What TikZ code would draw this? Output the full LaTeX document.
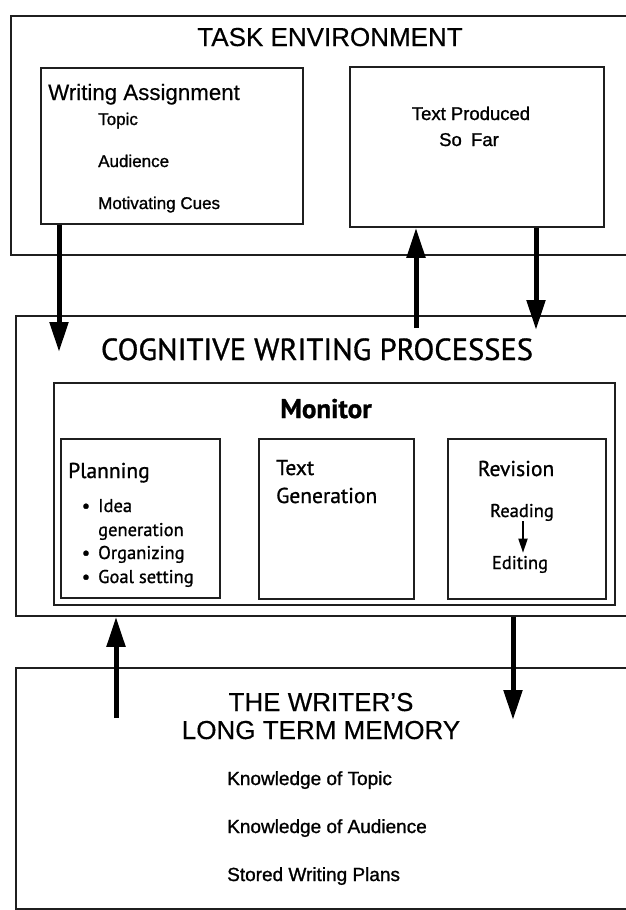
\documentclass[tikz,border=0pt]{standalone}
\usepackage{fontspec}
\setmainfont{Liberation Sans}[FakeBold=0.4]
\newfontfamily\heavysans{Liberation Sans}[FakeBold=1.1]
\newfontfamily\humanist{PT Sans}[FakeBold=1.0]
\usetikzlibrary{arrows.meta}
\begin{document}
\begin{tikzpicture}[x=1pt,y=-1pt,
  frame/.style={draw=black!88, line width=1.8pt, rectangle, inner sep=0pt, anchor=north west},
  lbl/.style={inner sep=0pt, text=black},
  head/.style={lbl, anchor=base, font=\fontsize{26}{28}\selectfont},
  item/.style={lbl, anchor=base west, font=\heavysans\fontsize{17}{19}\selectfont},
  hsub/.style={lbl, font=\humanist\fontsize{21.5}{24}\selectfont},
  hitem/.style={lbl, font=\humanist\fontsize{18.5}{21}\selectfont},
  bigarrow/.style={draw=black, line width=5pt, -{Triangle[width=18pt,length=30pt]}},
  smallarrow/.style={draw=black, line width=1.8pt, -{Triangle[width=9pt,length=14pt]}}
]
\useasboundingbox (0,0) rectangle (625,910);
\fill[white] (0,0) rectangle (625,910);

% ---------------- task environment ----------------
\node[frame, minimum width=640pt, minimum height=239pt] (task) at (10,15) {};
\node[head] (taskT) at (330,46) {TASK ENVIRONMENT};

\node[frame, minimum width=262pt, minimum height=156pt] (assign) at (40,67) {};
\node[lbl, anchor=base west, font=\fontsize{22.3}{24}\selectfont] (assignT) at (48,100) {Writing Assignment};
\node[item] (topic) at (98,125) {Topic};
\node[item] (audience) at (98,167) {Audience};
\node[item] (cues) at (98,209) {Motivating Cues};

\node[frame, minimum width=254pt, minimum height=160pt] (produced) at (349,66) {};
\node[lbl, anchor=base, font=\heavysans\fontsize{18.5}{21}\selectfont] (prodA) at (471,120) {Text Produced};
\node[lbl, anchor=base, font=\heavysans\fontsize{18.5}{21}\selectfont] (prodB) at (469,146) {So\enspace Far};

% ---------------- cognitive writing processes ----------------
\node[frame, minimum width=635pt, minimum height=300pt] (cog) at (15,315) {};
\node[lbl, anchor=base, font=\humanist\fontsize{30.5}{32}\selectfont] (cogT) at (317,360) {COGNITIVE WRITING PROCESSES};

\node[frame, minimum width=561pt, minimum height=222pt] (monitor) at (53,382) {};
\node[lbl, anchor=base, font=\humanist\bfseries\fontsize{27}{29}\selectfont] (monT) at (326,418) {Monitor};

\node[frame, minimum width=159pt, minimum height=159pt] (planning) at (60,438) {};
\node[hsub, anchor=base west] (planT) at (68,478) {Planning};
\node[hitem, anchor=base] (dotA) at (86,512) {•};
\node[hitem, anchor=base west] (idea) at (98,512) {Idea};
\node[hitem, anchor=base west] (ideaB) at (98,536) {generation};
\node[hitem, anchor=base] (dotB) at (86,559) {•};
\node[hitem, anchor=base west] (organizing) at (98,559) {Organizing};
\node[hitem, anchor=base] (dotC) at (86,583) {•};
\node[hitem, anchor=base west] (goal) at (98,583) {Goal setting};

\node[frame, minimum width=155pt, minimum height=160pt] (textgen) at (258,438) {};
\node[hsub, anchor=base west] (tgA) at (276,475) {Text};
\node[hsub, anchor=base west] (tgB) at (276,503) {Generation};

\node[frame, minimum width=158pt, minimum height=160pt] (revision) at (447,438) {};
\node[hsub, anchor=base] (revT) at (516,476) {Revision};
\node[hitem, anchor=base] (reading) at (522,517) {Reading};
\node[hitem, anchor=base] (editing) at (520,569) {Editing};
\draw[smallarrow] (reading.south -| 523,0) -- ([yshift=3pt]editing.north -| 523,0);

% ---------------- long term memory ----------------
\node[frame, minimum width=635pt, minimum height=241pt] (ltm) at (15,667) {};
\node[head] (ltmA) at (321,711) {THE WRITER'S};
\node[head] (ltmB) at (321,739) {LONG TERM MEMORY};
\node[lbl, anchor=base west, font=\heavysans\fontsize{19}{21}\selectfont] (kTopic) at (227,785) {Knowledge of Topic};
\node[lbl, anchor=base west, font=\heavysans\fontsize{19}{21}\selectfont] (kAud) at (227,833) {Knowledge of Audience};
\node[lbl, anchor=base west, font=\heavysans\fontsize{19}{21}\selectfont] (kPlans) at (227,881) {Stored Writing Plans};

% ---------------- connectors ----------------
\coordinate (a1tip) at (59,352);
\coordinate (a2base) at (416,328);
\coordinate (a3tip) at (536,330);
\coordinate (a4base) at (116,718);
\coordinate (a5tip) at (513,720);

\draw[bigarrow] (assign.south -| a1tip) -- (a1tip);
\draw[bigarrow] (a2base) -- (produced.south -| a2base);
\draw[bigarrow] (produced.south -| a3tip) -- (a3tip);
\draw[bigarrow] (a4base) -- (cog.south -| a4base);
\draw[bigarrow] (cog.south -| a5tip) -- (a5tip);
\end{tikzpicture}
\end{document}
